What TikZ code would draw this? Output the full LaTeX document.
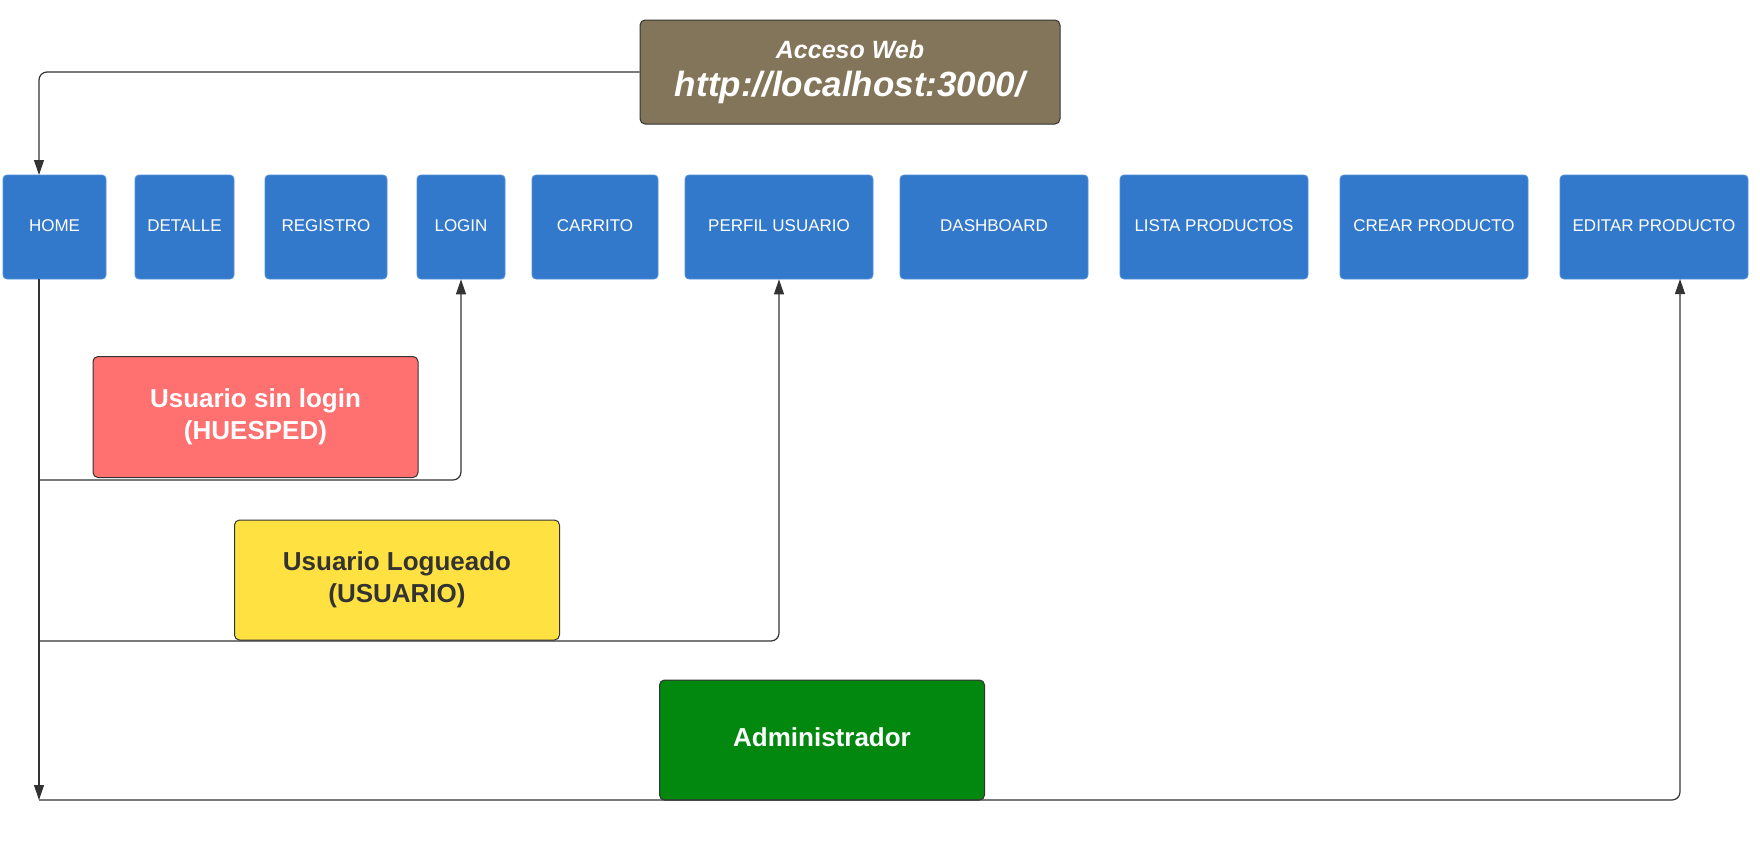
\documentclass[tikz,border=0pt]{standalone}
\usepackage{fontspec}
\setmainfont{Liberation Sans}
\usetikzlibrary{arrows.meta}
\definecolor{pageblue}{RGB}{51,121,203}
\definecolor{pageborder}{RGB}{80,145,218}
\definecolor{guestred}{RGB}{255,113,113}
\definecolor{useryellow}{RGB}{255,225,66}
\definecolor{admingreen}{RGB}{2,136,15}
\definecolor{webbrown}{RGB}{131,117,89}
\definecolor{linegray}{RGB}{51,51,51}
\tikzset{
  pagebox/.style={fill=pageblue, draw=pageborder, line width=0.8pt, rounded corners=4pt,
    minimum height=104pt, inner sep=0pt, text=white, font=\fontsize{17}{20}\selectfont},
  rolebox/.style={draw=linegray, line width=1pt, rounded corners=5pt, minimum width=325pt,
    minimum height=121pt, inner sep=0pt, align=center, font=\fontsize{26}{32}\selectfont\bfseries},
  conn/.style={draw=linegray, line width=1.2pt, rounded corners=8pt},
  tip/.style={-{Triangle[length=15pt,width=10pt]}}
}
\begin{document}
\begin{tikzpicture}[x=1pt,y=-1pt]
\useasboundingbox (0,0) rectangle (1760,862);

% web access box
\node[draw=linegray, line width=1pt, fill=webbrown, rounded corners=5pt, minimum width=420pt,
  minimum height=104pt, inner sep=0pt, align=center, text=white] (web) at (850,72)
  {{\fontsize{25}{30}\selectfont\bfseries\itshape Acceso Web}\\[12pt]
   {\fontsize{35}{40}\selectfont\bfseries\itshape http://localhost:3000/}};

% page boxes
\node[pagebox, minimum width=103pt] (home) at (54.5,227) {\raisebox{3pt}{HOME}};
\node[pagebox, minimum width=99pt] (detalle) at (184.5,227) {\raisebox{3pt}{DETALLE}};
\node[pagebox, minimum width=122pt] (registro) at (326,227) {\raisebox{3pt}{REGISTRO}};
\node[pagebox, minimum width=88pt] (login) at (461,227) {\raisebox{3pt}{LOGIN}};
\node[pagebox, minimum width=126pt] (carrito) at (595,227) {\raisebox{3pt}{CARRITO}};
\node[pagebox, minimum width=188pt] (perfil) at (779,227) {\raisebox{3pt}{PERFIL USUARIO}};
\node[pagebox, minimum width=188pt] (dashboard) at (994,227) {\raisebox{3pt}{DASHBOARD}};
\node[pagebox, minimum width=188pt] (lista) at (1214,227) {\raisebox{3pt}{LISTA PRODUCTOS}};
\node[pagebox, minimum width=188pt] (crear) at (1434,227) {\raisebox{3pt}{CREAR PRODUCTO}};
\node[pagebox, minimum width=188pt] (editar) at (1654,227) {\raisebox{3pt}{EDITAR PRODUCTO}};

% role boxes
\node[rolebox, fill=guestred, text=white] (guest) at (255.5,417) {Usuario sin login\\(HUESPED)};
\node[rolebox, fill=useryellow, text=linegray, minimum height=120pt] (user) at (397,580) {Usuario Logueado\\(USUARIO)};
\node[rolebox, fill=admingreen, text=white, minimum height=120pt] (admin) at (822,740) {\raisebox{6pt}{Administrador}};

% connector points
\coordinate (homein) at (39,175);
\coordinate (homeout) at (39,279);
\coordinate (j1) at (39,480);
\coordinate (j2) at (39,641);
\coordinate (j3) at (39,800);
\coordinate (editin) at (1680,279);

% connectors
\draw[conn, tip] (web.west) -| (homein);
\draw[conn, tip] (homeout) -- (j3);
\draw[conn, tip] (j1) -| (login.south);
\draw[conn, tip] (j2) -| (perfil.south);
\draw[conn, tip] (j3) -| (editin);
\end{tikzpicture}
\end{document}
